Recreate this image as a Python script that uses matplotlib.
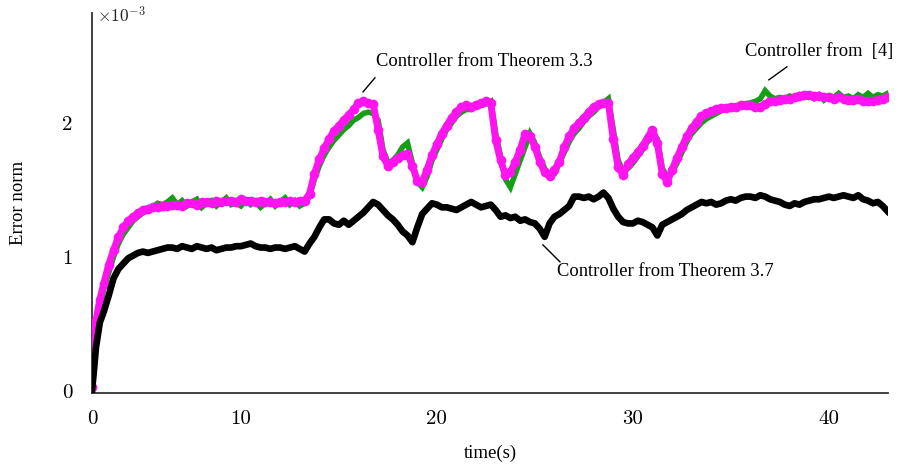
import matplotlib
matplotlib.use("Agg")
import matplotlib.pyplot as plt
import numpy as np

plt.rcParams["mathtext.fontset"] = "cm"

# time grid (s)
time_early = [2.4, 2.5, 2.6, 2.8]
time_main = np.arange(3.0, 43.001, 0.25)
time = np.concatenate([time_early, time_main])

# Controller from Theorem 3.3 (magenta), x1e-3
thm33 = [0.03, 0.42, 0.52, 0.68,
         0.80, 0.94, 1.05, 1.15, 1.22, 1.27, 1.30, 1.33, 1.35, 1.36, 1.37, 1.37,
         1.38, 1.38, 1.39, 1.39, 1.38, 1.40, 1.40, 1.39, 1.41, 1.41, 1.40, 1.42,
         1.41, 1.42, 1.42, 1.41, 1.43, 1.42, 1.42, 1.41, 1.42, 1.41, 1.41, 1.40,
         1.41, 1.41, 1.42, 1.41, 1.42, 1.42, 1.47, 1.62, 1.73, 1.81, 1.88, 1.94,
         1.98, 2.02, 2.06, 2.10, 2.15, 2.16, 2.15, 2.14, 1.95, 1.75, 1.68, 1.71,
         1.74, 1.76, 1.77, 1.68, 1.57, 1.56, 1.65, 1.76, 1.84, 1.92, 1.98, 2.04,
         2.08, 2.12, 2.13, 2.12, 2.13, 2.15, 2.16, 2.15, 1.87, 1.72, 1.61, 1.63,
         1.71, 1.80, 1.92, 1.90, 1.82, 1.71, 1.63, 1.60, 1.65, 1.71, 1.82, 1.90,
         1.96, 2.00, 2.04, 2.08, 2.12, 2.14, 2.15, 2.15, 1.88, 1.67, 1.61, 1.69,
         1.74, 1.78, 1.83, 1.89, 1.95, 1.85, 1.62, 1.56, 1.65, 1.74, 1.82, 1.90,
         1.96, 2.01, 2.05, 2.07, 2.09, 2.10, 2.11, 2.11, 2.12, 2.12, 2.13, 2.13,
         2.13, 2.12, 2.12, 2.14, 2.16, 2.16, 2.17, 2.18, 2.18, 2.19, 2.20, 2.21,
         2.21, 2.20, 2.20, 2.19, 2.19, 2.18, 2.19, 2.18, 2.17, 2.17, 2.18, 2.16,
         2.16, 2.16, 2.17, 2.18, 2.19]

# Controller from [4] (green), x1e-3
ctrl4 = [0.00, 0.30, 0.45, 0.62,
         0.76, 0.88, 1.00, 1.10, 1.17, 1.22, 1.27, 1.30, 1.33, 1.35, 1.37, 1.40,
         1.39, 1.41, 1.44, 1.39, 1.42, 1.38, 1.41, 1.43, 1.37, 1.40, 1.42, 1.38,
         1.41, 1.44, 1.39, 1.40, 1.38, 1.42, 1.39, 1.41, 1.37, 1.40, 1.43, 1.38,
         1.41, 1.44, 1.39, 1.42, 1.38, 1.40, 1.45, 1.58, 1.68, 1.76, 1.82, 1.87,
         1.91, 1.95, 1.98, 2.02, 2.04, 2.07, 2.08, 2.07, 2.02, 1.80, 1.70, 1.72,
         1.76, 1.82, 1.85, 1.70, 1.56, 1.52, 1.60, 1.72, 1.80, 1.88, 1.95, 2.00,
         2.05, 2.08, 2.10, 2.10, 2.12, 2.13, 2.14, 2.16, 1.92, 1.75, 1.58, 1.52,
         1.62, 1.72, 1.82, 1.92, 1.85, 1.74, 1.66, 1.60, 1.62, 1.70, 1.78, 1.86,
         1.92, 1.96, 2.01, 2.05, 2.08, 2.12, 2.15, 2.18, 1.95, 1.72, 1.64, 1.66,
         1.70, 1.75, 1.80, 1.86, 1.93, 1.88, 1.66, 1.60, 1.63, 1.70, 1.78, 1.86,
         1.92, 1.96, 2.00, 2.03, 2.05, 2.07, 2.09, 2.10, 2.11, 2.12, 2.12, 2.14,
         2.15, 2.16, 2.18, 2.24, 2.20, 2.18, 2.19, 2.18, 2.20, 2.19, 2.21, 2.19,
         2.20, 2.18, 2.21, 2.17, 2.20, 2.19, 2.22, 2.19, 2.20, 2.18, 2.21, 2.19,
         2.22, 2.19, 2.21, 2.20, 2.22]

# Controller from Theorem 3.7 (black), x1e-3
thm37 = [0.00, 0.15, 0.32, 0.51,
         0.59, 0.71, 0.84, 0.91, 0.95, 0.99, 1.01, 1.03, 1.04, 1.03, 1.04, 1.05,
         1.06, 1.07, 1.07, 1.06, 1.08, 1.07, 1.06, 1.08, 1.07, 1.06, 1.07, 1.05,
         1.06, 1.07, 1.07, 1.08, 1.08, 1.09, 1.10, 1.08, 1.07, 1.07, 1.06, 1.07,
         1.07, 1.06, 1.07, 1.08, 1.06, 1.04, 1.10, 1.15, 1.22, 1.28, 1.28, 1.25,
         1.24, 1.27, 1.24, 1.27, 1.30, 1.33, 1.37, 1.41, 1.39, 1.35, 1.31, 1.28,
         1.24, 1.19, 1.16, 1.11, 1.22, 1.32, 1.36, 1.40, 1.39, 1.37, 1.37, 1.36,
         1.35, 1.37, 1.39, 1.41, 1.39, 1.37, 1.38, 1.39, 1.35, 1.30, 1.31, 1.29,
         1.30, 1.27, 1.28, 1.26, 1.25, 1.21, 1.15, 1.25, 1.30, 1.32, 1.35, 1.38,
         1.45, 1.45, 1.44, 1.45, 1.43, 1.45, 1.48, 1.44, 1.36, 1.30, 1.26, 1.25,
         1.25, 1.27, 1.26, 1.24, 1.22, 1.16, 1.24, 1.26, 1.28, 1.30, 1.32, 1.35,
         1.37, 1.39, 1.41, 1.40, 1.41, 1.39, 1.40, 1.42, 1.43, 1.42, 1.44, 1.45,
         1.45, 1.44, 1.46, 1.45, 1.43, 1.42, 1.41, 1.39, 1.38, 1.40, 1.39, 1.41,
         1.42, 1.43, 1.43, 1.44, 1.45, 1.44, 1.45, 1.46, 1.45, 1.44, 1.46, 1.43,
         1.42, 1.40, 1.41, 1.38, 1.34]

xtick_pos = [2.4, 10, 20, 30, 40]
xtick_labels = ["0", "10", "20", "30", "40"]
ytick_pos = [0, 1, 2]
ytick_labels = ["0", "1", "2"]

label_33 = "Controller from Theorem 3.3"
label_4 = "Controller from  [4]"
label_37 = "Controller from Theorem 3.7"

GREEN = "#14a014"
MAGENTA = "#ff14f0"

fig = plt.figure(figsize=(8.99, 4.66), dpi=100)
ax = fig.add_axes([0.1023, 0.1567, 0.8855, 0.8155])

ax.plot(time, ctrl4, color=GREEN, lw=4.0, solid_joinstyle="miter", zorder=2)
ax.plot(time, thm33, color=MAGENTA, lw=5.0, marker="o", ms=7.0, mew=0,
        solid_capstyle="round", zorder=3)
ax.plot(time, thm37, color="black", lw=4.8, solid_joinstyle="round", zorder=4)

ax.set_xlim(2.4, 43.02)
ax.set_ylim(-0.015, 2.82)

tick_font = dict(family="cmr10", size=15)
ax.set_xticks(xtick_pos)
ax.set_xticklabels(xtick_labels, fontdict=tick_font)
ax.set_yticks(ytick_pos)
ax.set_yticklabels(ytick_labels, fontdict=tick_font)
ax.tick_params(axis="x", length=0, pad=12)
ax.tick_params(axis="y", length=0, pad=14)

for s in ["top", "right"]:
    ax.spines[s].set_visible(False)
for s in ["left", "bottom"]:
    ax.spines[s].set_color("#333333")
    ax.spines[s].set_linewidth(1.3)

serif = "Liberation Serif"
ax.set_xlabel("time(s)", fontfamily=serif, fontsize=13.5, labelpad=12)
ax.set_ylabel("Error norm", fontfamily=serif, fontsize=13.5, labelpad=25)

ax.text(0.006, 0.99, r"$\times10^{-3}$", transform=ax.transAxes,
        fontsize=12.5, ha="left", va="center", color="#222222")

# annotations
ax.plot([16.23, 16.84], [2.231, 2.336], color="black", lw=1.0)
ax.text(16.89, 2.455, label_33, fontfamily=serif, fontsize=13.3,
        ha="left", va="center")
ax.plot([36.94, 37.86], [2.321, 2.418], color="black", lw=1.0)
ax.text(35.72, 2.53, label_4, fontfamily=serif, fontsize=13.3,
        ha="left", va="center")
ax.plot([25.41, 26.28], [1.090, 0.963], color="black", lw=1.0)
ax.text(26.12, 0.888, label_37, fontfamily=serif, fontsize=13.3,
        ha="left", va="center")

fig.savefig("out.png", dpi=100)
